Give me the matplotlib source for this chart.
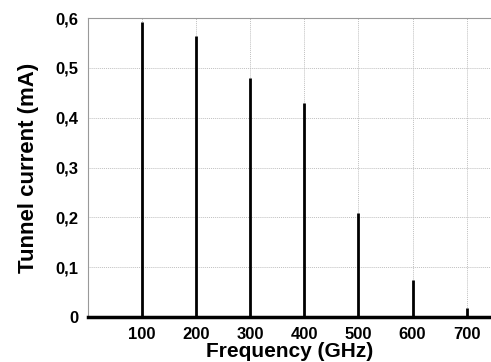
import matplotlib.pyplot as plt
import numpy as np

plt.rcParams['font.family'] = ['Liberation Sans', 'DejaVu Sans']
plt.rcParams['font.weight'] = 'bold'

freq = [100, 200, 300, 400, 500, 600, 700]
current = [0.592, 0.564, 0.480, 0.430, 0.209, 0.074, 0.018]
yticks = [0, 0.1, 0.2, 0.3, 0.4, 0.5, 0.6]
ylabels = ["0", "0,1", "0,2", "0,3", "0,4", "0,5", "0,6"]

fig = plt.figure(figsize=(4.91, 3.62), dpi=100)
ax = fig.add_axes([0.179, 0.124, 0.821, 0.826])

ax.grid(True, color="#c0c0c0", linestyle=(0, (1, 1)), lw=0.7)
ax.set_axisbelow(True)
ax.vlines(freq, 0, current, color="black", lw=2.0, zorder=3)
ax.axhline(0, color="black", lw=2.5, zorder=5, clip_on=False)

ax.set_xlim(0, 745)
ax.set_ylim(0, 0.6)
ax.set_xticks(freq)
ax.set_yticks(yticks)
ax.set_yticklabels(ylabels)
ax.tick_params(length=0, labelsize=12)
ax.tick_params(axis="y", pad=7)
ax.tick_params(axis="x", pad=7)
for s in ["left", "top"]:
    ax.spines[s].set_color("#999999")
ax.spines["right"].set_visible(False)
ax.spines["bottom"].set_visible(False)

ax.set_xlabel("Frequency (GHz)", fontsize=15, fontweight="bold", labelpad=0)
ax.set_ylabel("Tunnel current (mA)", fontsize=16, fontweight="bold", labelpad=12)

fig.savefig("out.png", dpi=100)
